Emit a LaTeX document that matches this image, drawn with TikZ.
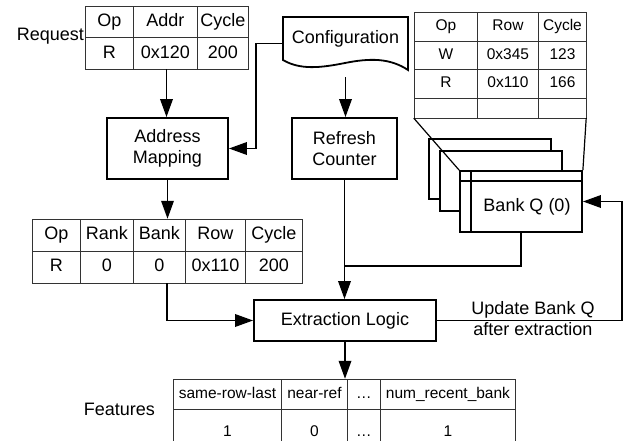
\documentclass[tikz,border=0pt]{standalone}
\usepackage{fontspec}
\setmainfont{Liberation Sans}
\usetikzlibrary{arrows.meta,calc}

\newcommand{\bigtxt}{\fontsize{18pt}{21.5pt}\selectfont}
\newcommand{\smalltxt}{\fontsize{15.5pt}{18pt}\selectfont}

\begin{document}
\begin{tikzpicture}[x=1pt,y=-1pt,
    box/.style={draw, line width=1.8pt, fill=white, align=center, font=\bigtxt, inner sep=0},
    cell/.style={draw=black!80, line width=0.9pt, anchor=north west, inner sep=0,
        font=\bigtxt, text height=13pt, text depth=4pt},
    smallcell/.style={cell, font=\smalltxt, text height=11pt, text depth=3.5pt},
    tab/.style={inner sep=0},
    lbl/.style={font=\bigtxt, inner sep=0, align=center},
    wire/.style={line width=1.8pt},
    arr/.style={wire, -{Triangle[length=18pt,width=12.5pt]}}]

    \useasboundingbox (0,0) rectangle (625,441);
    \clip (0,0) rectangle (625,441);

    % request
    \node[tab, minimum width=163, minimum height=63] (req) at (166.5,37.5) {};
    \foreach \x/\w/\a/\b [count=\i] in {85/48/Op/R, 133/64/Addr/0x120, 197/51/Cycle/200}{
        \node[cell, minimum width=\w, minimum height=31.5] (req-a\i) at (\x,6) {\a};
        \node[cell, minimum width=\w, minimum height=31.5] (req-b\i) at (\x,37.5) {\b};
    }
    \node[lbl, anchor=east] (reqlbl) at (84,36) {Request};

    \node[box, minimum width=121, minimum height=61] (addr) at (167.5,148.5) {Address\\Mapping};
    \node[box, minimum width=105, minimum height=61] (rc) at (344.5,148.5) {Refresh\\Counter};

    % configuration (document shape)
    \draw[wire, fill=white] (283,17) -- (408,17) -- (408,70)
        .. controls (390,58) and (370,58) .. (345,63)
        .. controls (320,68) and (300,70) .. (283,60) -- cycle;
    \node[lbl, minimum width=125, minimum height=53, text height=13pt, text depth=13pt]
        (conf) at (345.5,43.5) {Configuration};

    % mapped request
    \node[tab, minimum width=270, minimum height=64] (map) at (167,251) {};
    \foreach \x/\w/\a/\b [count=\i] in {32/48/Op/R, 80/53/Rank/0, 133/52/Bank/0,
            185/60/Row/0x110, 245/57/Cycle/200}{
        \node[cell, minimum width=\w, minimum height=32] (map-a\i) at (\x,219) {\a};
        \node[cell, minimum width=\w, minimum height=32] (map-b\i) at (\x,251) {\b};
    }

    % bank history
    \node[tab, minimum width=172, minimum height=106] (bank) at (500,65) {};
    \foreach \x/\w/\a/\b/\c [count=\i] in {414/63/Op/W/R, 477/61/Row/0x345/0x110,
            538/48/Cycle/123/166}{
        \node[smallcell, minimum width=\w, minimum height=29] (bank-a\i) at (\x,12) {\a};
        \node[smallcell, minimum width=\w, minimum height=28] (bank-b\i) at (\x,41) {\b};
        \node[smallcell, minimum width=\w, minimum height=29] (bank-c\i) at (\x,69) {\c};
        \node[smallcell, minimum width=\w, minimum height=20] (bank-d\i) at (\x,98) {};
    }

    \foreach \x/\y [count=\i] in {490/169, 501/181}{
        \node[box, minimum width=122, minimum height=60] (back\i) at (\x,\y) {};
    }
    \node[box, minimum width=122, minimum height=61] (bankq) at (521,201.5) {};
    \draw[line width=1.5pt] ($(bankq.north west)+(12,0)$) -- ($(bankq.south west)+(12,0)$);
    \draw[line width=1.5pt] ($(bankq.north west)+(0,11)$) -- ($(bankq.north east)+(0,11)$);
    \node[lbl] (banklbl) at (527,206.5) {Bank Q (0)};
    \draw[line width=1.2pt] (bank.south west) -- (bankq.north west);
    \draw[line width=1.2pt] (bank.south east) -- (bankq.north east);

    \node[box, minimum width=182, minimum height=41] (ext) at (345,320.5) {Extraction Logic};

    % features
    \node[tab, minimum width=342, minimum height=76] (feat) at (344,417) {};
    \foreach \x/\w/\a/\b [count=\i] in {173/108/same-row-last/1, 281/66/near-ref/0,
            347/33/{\ldots}/{\ldots}, 380/135/num\_recent\_bank/1}{
        \node[smallcell, minimum width=\w, minimum height=30] (feat-a\i) at (\x,379) {\a};
        \node[smallcell, minimum width=\w, minimum height=46] (feat-b\i) at (\x,409) {\b};
    }
    \node[lbl, anchor=east] (featlbl) at (155,409.5) {Features};

    % connectors
    \draw[arr] (req.south) -- (req.south |- addr.north);
    \draw[arr] (conf.west) -- ++(-27,0) |- (addr.east);
    \draw[arr, shorten <=7pt] (conf.south) -- (conf.south |- rc.north);
    \draw[arr] (addr.south) -- (addr.south |- map.north);
    \draw[arr] (rc.south) -- (rc.south |- ext.north);
    \draw[wire] (bankq.south) -- ++(0,33) -| (rc.south);
    \draw[arr] (map.south) |- (ext.west);
    \draw[arr] (ext.south) -- (ext.south |- feat.north);
    \draw[arr] (ext.east) -- ++(185,0) |- (bankq.east);
    \node[lbl] (upd) at (533,318.7) {Update Bank Q\\after extraction};
\end{tikzpicture}
\end{document}
